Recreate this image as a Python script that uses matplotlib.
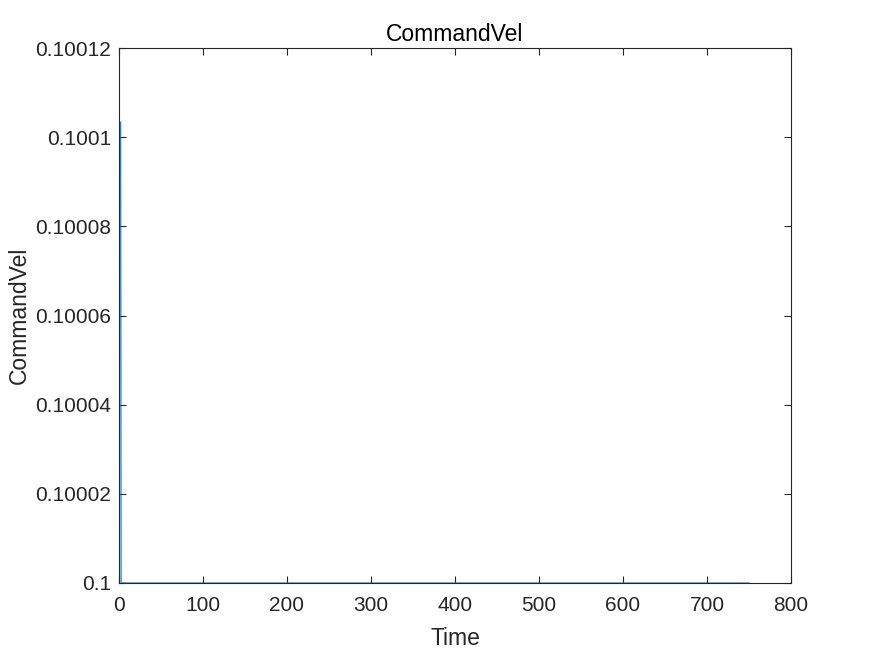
import matplotlib
matplotlib.use("Agg")
import matplotlib.pyplot as plt

time = [2, 2.5, 750]
command_vel = [0.1001034, 0.1, 0.1]
xticks = [0, 100, 200, 300, 400, 500, 600, 700, 800]
yticks = [0.1, 0.10002, 0.10004, 0.10006, 0.10008, 0.1001, 0.10012]
ytick_labels = ["0.1", "0.10002", "0.10004", "0.10006", "0.10008", "0.1001", "0.10012"]

plt.rcParams['font.family'] = ['Liberation Sans', 'DejaVu Sans']
fig = plt.figure(figsize=(8.75, 6.56), dpi=100)
ax = fig.add_axes([119/875, 73/656, 672/875, 535/656])
ax.plot(time, command_vel, color=(0, 0.447, 0.741), linewidth=0.8, zorder=3)
ax.set_xlim(0, 800)
ax.set_ylim(0.1, 0.10012)
ax.set_xticks(xticks)
ax.set_yticks(yticks)
ax.set_yticklabels(ytick_labels)
gray = (0.15, 0.15, 0.15)
ax.tick_params(direction='in', length=5, width=0.8, colors=gray, labelsize=15,
               top=True, right=True, labeltop=False, labelright=False)
ax.tick_params(axis='x', pad=9.5)
ax.tick_params(axis='y', pad=5.5)
for s in ax.spines.values():
    s.set_color(gray)
    s.set_linewidth(0.8)
ax.set_xlabel("Time", fontsize=16.5, color=gray, labelpad=8.5)
ax.set_ylabel("CommandVel", fontsize=16.5, color=gray, labelpad=3.5)
ax.set_title("CommandVel", fontsize=16.5, color='black', pad=5)
fig.savefig("out.png", dpi=100)
